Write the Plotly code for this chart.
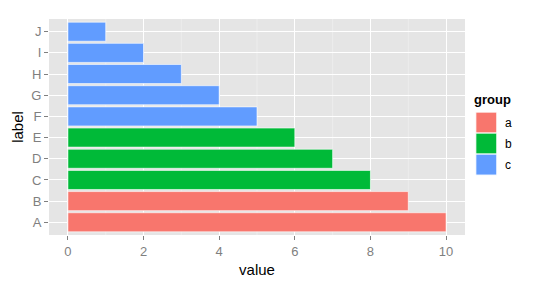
import plotly.graph_objects as go

labels = ["A", "B", "C", "D", "E", "F", "G", "H", "I", "J"]
values = [10, 9, 8, 7, 6, 5, 4, 3, 2, 1]
groups = ["a", "a", "b", "b", "b", "c", "c", "c", "c", "c"]
group_names = ["a", "b", "c"]
colors = {"a": "#F8766D", "b": "#00BA38", "c": "#619CFF"}
x_ticks = [0, 2, 4, 6, 8, 10]

fig = go.Figure()
for g in group_names:
    ys = [l for l, gg in zip(labels, groups) if gg == g]
    xs = [v for v, gg in zip(values, groups) if gg == g]
    fig.add_trace(go.Bar(
        x=xs, y=ys, orientation="h", name=g,
        marker=dict(color=colors[g], line=dict(color="white", width=0.6)),
        width=0.9, showlegend=False,
    ))

# minor gridlines
shapes = []
for m in [1, 3, 5, 7, 9]:
    shapes.append(dict(type="line", xref="x", yref="paper", x0=m, x1=m, y0=0, y1=1,
                       line=dict(color="#F2F2F2", width=0.6), layer="below"))

# manual ggplot-style legend
annotations = [dict(text="<b>group</b>", xref="paper", yref="paper", x=1.018, y=0.585,
                    xanchor="left", yanchor="bottom", showarrow=False,
                    font=dict(size=13, color="black", family="Liberation Sans"))]
key_h = 21 / 216
top = 0.569
for i, g in enumerate(group_names):
    y1 = top - i * key_h
    y0 = y1 - key_h
    shapes.append(dict(type="rect", xref="paper", yref="paper",
                       x0=1.026, x1=1.026 + 21 / 416, y0=y0, y1=y1,
                       fillcolor=colors[g], line=dict(color="white", width=1)))
    annotations.append(dict(text=g, xref="paper", yref="paper", x=1.026 + 27 / 416,
                            y=(y0 + y1) / 2, xanchor="left", yanchor="middle",
                            showarrow=False, font=dict(size=12, color="black",
                                                       family="Liberation Sans")))

fig.update_layout(
    width=540, height=287,
    margin=dict(l=49, r=75, t=19, b=52),
    paper_bgcolor="white", plot_bgcolor="#E5E5E5",
    font=dict(family="Liberation Sans", size=12, color="#7F7F7F"),
    barmode="overlay",
    shapes=shapes, annotations=annotations,
    xaxis=dict(range=[-0.5, 10.5], tickvals=x_ticks, ticks="outside", ticklen=4,
               tickcolor="#7F7F7F", gridcolor="white", gridwidth=1.2, zeroline=False,
               showline=False, title=dict(text="value", font=dict(size=15, color="black"), standoff=6),
               tickfont=dict(size=13, color="#7F7F7F")),
    yaxis=dict(range=[-0.6, 9.6], categoryorder="array", categoryarray=labels,
               ticks="outside", ticklen=4, tickcolor="#7F7F7F", gridcolor="white",
               gridwidth=1.2, zeroline=False, showline=False,
               title=dict(text="label", font=dict(size=15, color="black"), standoff=4),
               tickfont=dict(size=13, color="#7F7F7F")),
)

fig.write_html("out.html")
